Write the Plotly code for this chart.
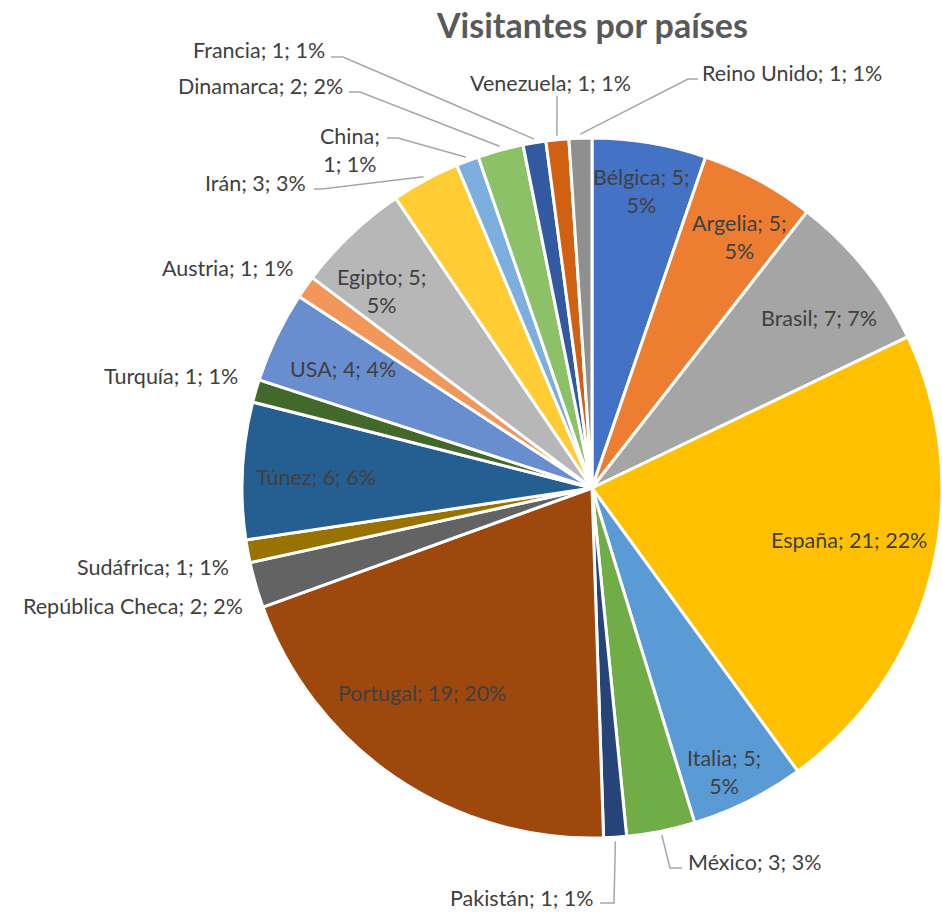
import math
import plotly.graph_objects as go

# Visitors by country, in slice order (clockwise from 12 o'clock)
countries = ["Bélgica", "Argelia", "Brasil", "España", "Italia", "México", "Pakistán",
             "Portugal", "República Checa", "Sudáfrica", "Túnez", "Turquía", "USA",
             "Austria", "Egipto", "Irán", "China", "Dinamarca", "Francia", "Venezuela",
             "Reino Unido"]
visitors = [5, 5, 7, 21, 5, 3, 1, 19, 2, 1, 6, 1, 4, 1, 5, 3, 1, 2, 1, 1, 1]

colors = ["#4472C4", "#ED7D31", "#A5A5A5", "#FFC000", "#5B9BD5", "#70AD47", "#264478",
          "#9E480E", "#636363", "#997300", "#255E91", "#43682B", "#698ED0", "#F1975A",
          "#B7B7B7", "#FFCD33", "#7CAFDD", "#8CC168", "#335AA1", "#D26012", "#8F8F8F"]

W, H = 942, 913
CX, CY, R = 592, 488, 350          # pie centre / radius in page pixels

total = sum(visitors)

# inside labels: radial fraction of R, angle nudge (deg) from slice mid-angle, wrap
inside_style = {
    "Bélgica": (0.86, 0.0, True), "Argelia": (0.83, 2.0, True),
    "Brasil": (0.81, 2.0, False), "España": (0.75, -2.7, False),
    "Italia": (0.895, 1.6, True), "Portugal": (0.76, 5.5, False),
    "Túnez": (0.79, -0.5, False), "USA": (0.79, 0.0, False),
    "Egipto": (0.825, -3.3, True),
}
# outside labels: text anchor point, xanchor, leader-line points (label end first)
outside_style = {
    "Francia": ((327, 50), "right", [(331, 57), (343, 57)]),
    "Dinamarca": ((345, 86), "right", [(349, 92), (360, 92)]),
    "China": ((350, 150), "center", [(387, 138), (398, 138)]),
    "Irán": ((308, 183), "right", [(314, 189), (322, 189)]),
    "Venezuela": ((550, 83), "center", [(557, 96)]),
    "Reino Unido": ((700, 73), "left", [(698, 79), (688, 79)]),
    "Pakistán": ((595, 898), "right", [(600, 903), (614, 903)]),
    "México": ((686, 862), "left", [(682, 868), (670, 868)]),
    "Austria": ((295, 268), "right", None),
    "Turquía": ((240, 376), "right", None),
    "Sudáfrica": ((231, 567), "right", None),
    "República Checa": ((245, 606), "right", None),
}

TEXT_COLOR = "#404040"
FONT = "Lato"
FS = 21.5

fig = go.Figure()

fig.add_trace(go.Pie(
    labels=countries, values=visitors, sort=False, direction="clockwise", rotation=0,
    marker=dict(colors=colors, line=dict(color="white", width=3)),
    textinfo="none", hoverinfo="label+value+percent", showlegend=False,
    domain=dict(x=[(CX - R) / W, (CX + R) / W],
                y=[(H - CY - R) / H, (H - CY + R) / H]),
))


def point(angle_deg, r):
    a = math.radians(angle_deg)
    return CX + r * math.sin(a), CY - r * math.cos(a)


annotations = []
cum = 0
for name, v in zip(countries, visitors):
    mid = (cum + v / 2) / total * 360
    cum += v
    pct = round(100 * v / total)
    if name in inside_style:
        frac, nudge, wrap = inside_style[name]
        x, y = point(mid + nudge, frac * R)
        sep = "<br>" if wrap else " "
        txt = f"{name}; {v};{sep}{pct}%"
        annotations.append(dict(x=x, y=y, xref="x", yref="y", text=txt, showarrow=False,
                                font=dict(family=FONT, size=FS, color=TEXT_COLOR),
                                xanchor="center", yanchor="middle", align="center"))
    else:
        (lx, ly), xa, leader = outside_style[name]
        txt = f"{name};<br>{v}; {pct}%" if name == "China" else f"{name}; {v}; {pct}%"
        annotations.append(dict(x=lx, y=ly, xref="x", yref="y", text=txt, showarrow=False,
                                font=dict(family=FONT, size=FS, color=TEXT_COLOR),
                                xanchor=xa, yanchor="middle", align="center"))
        if leader:
            sx, sy = point(mid, R + 4)
            pts = leader + [(sx, sy)]
            fig.add_trace(go.Scatter(
                x=[p[0] for p in pts], y=[p[1] for p in pts], mode="lines",
                line=dict(color="#A6A6A6", width=1.5), hoverinfo="skip", showlegend=False,
            ))

annotations.append(dict(x=592, y=24, xref="x", yref="y", text="<b>Visitantes por países</b>",
                        showarrow=False, font=dict(family=FONT, size=34, color="#595959"),
                        xanchor="center", yanchor="middle"))

fig.update_layout(
    width=W, height=H, margin=dict(l=0, r=0, t=0, b=0),
    paper_bgcolor="white", plot_bgcolor="rgba(0,0,0,0)",
    xaxis=dict(range=[0, W], visible=False, domain=[0, 1], fixedrange=True),
    yaxis=dict(range=[H, 0], visible=False, domain=[0, 1], fixedrange=True),
    annotations=annotations,
)

fig.write_html("out.html")
